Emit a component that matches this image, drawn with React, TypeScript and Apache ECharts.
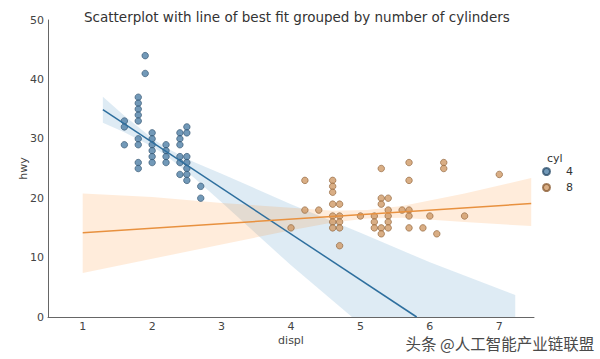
import React, { useEffect, useRef } from "react";
import * as echarts from "echarts";

// ---- data ----
const displ4 = [1.6, 1.6, 1.6, 1.8, 1.8, 1.8, 1.8, 1.8, 1.8, 1.8, 1.8, 1.8, 1.9, 1.9, 2.0, 2.0, 2.0, 2.0, 2.0, 2.0, 2.2, 2.2, 2.2, 2.2, 2.4, 2.4, 2.4, 2.4, 2.4, 2.4, 2.5, 2.5, 2.5, 2.5, 2.5, 2.5, 2.5, 2.7, 2.7];
const hwy4 = [33, 32, 29, 37, 36, 35, 34, 33, 30, 29, 26, 25, 44, 41, 31, 30, 29, 28, 27, 26, 29, 28, 27, 26, 31, 30, 29, 27, 26, 24, 32, 31, 27, 26, 25, 24, 23, 22, 20];

const displ8 = [4.0, 4.2, 4.2, 4.4, 4.6, 4.6, 4.6, 4.6, 4.6, 4.6, 4.6, 4.7, 4.7, 4.7, 4.7, 4.7, 5.0, 5.2, 5.2, 5.2, 5.3, 5.3, 5.3, 5.3, 5.3, 5.4, 5.4, 5.4, 5.4, 5.4, 5.6, 5.7, 5.7, 5.7, 5.7, 5.7, 5.9, 6.0, 6.1, 6.2, 6.2, 6.5, 7.0];
const hwy8 = [15, 23, 18, 18, 23, 22, 21, 19, 17, 16, 15, 19, 17, 16, 15, 12, 17, 17, 16, 15, 25, 20, 19, 15, 14, 20, 18, 17, 16, 15, 18, 26, 23, 18, 17, 15, 15, 17, 14, 26, 25, 17, 24];

// fitted lines (endpoints)
const fit4X = [1.29, 5.81];
const fit4Y = [34.9, 0];
const fit8X = [1.0, 7.46];
const fit8Y = [14.2, 19.1];

// confidence bands (edges)
const band4X = [1.29, 1.6, 2.0, 2.2, 2.6, 3.0, 4.0, 5.0, 6.0, 7.23];
const band4Up = [37.1, 33.9, 30.1, 28.5, 26.1, 24.1, 19.0, 14.2, 9.2, 3.7];
const band4Lo = [32.7, 31.1, 28.7, 27.2, 23.5, 19.3, 8.7, -1.2, -12.6, -25.7];
const band8X = [1.0, 2.0, 3.0, 4.0, 4.6, 5.1, 5.6, 6.5, 7.46];
const band8Up = [20.8, 20.2, 19.2, 18.4, 17.9, 18.0, 18.7, 20.8, 23.4];
const band8Lo = [7.4, 9.8, 12.2, 14.6, 15.9, 16.6, 16.7, 16.0, 15.3];

const xTicks = [1, 2, 3, 4, 5, 6, 7];
const legendItems = ["4", "8"];

const BLUE = "#1f77b4";
const ORANGE = "#ff7f0e";
const FONT = "DejaVu Sans";

function bandSeries(xs: number[], up: number[], lo: number[], color: string) {
  return {
    type: "custom",
    clip: true,
    silent: true,
    data: [[xs[0], up[0]]],
    renderItem: (_p: any, api: any) => {
      const pts: number[][] = [];
      for (let i = 0; i < xs.length; i++) pts.push(api.coord([xs[i], up[i]]));
      for (let i = xs.length - 1; i >= 0; i--) pts.push(api.coord([xs[i], lo[i]]));
      return {
        type: "polygon",
        shape: { points: pts },
        style: { fill: color, opacity: 0.15 },
      };
    },
  };
}

export default function App() {
  const ref = useRef<HTMLDivElement>(null);
  useEffect(() => {
    if (!ref.current) return;
    const chart = echarts.init(ref.current, undefined, { renderer: "svg" });
    chart.setOption({
      animation: false,
      backgroundColor: "#ffffff",
      title: {
        text: "Scatterplot with line of best fit grouped by number of cylinders",
        left: 79,
        top: 5,
        textStyle: { fontFamily: FONT, fontSize: 13.5, fontWeight: "normal", color: "#333" },
      },
      legend: {
        data: legendItems,
        orient: "vertical",
        left: 542,
        top: 166,
        icon: "circle",
        itemWidth: 7,
        itemHeight: 7,
        itemGap: 5,
        padding: 0,
        textStyle: { fontFamily: FONT, fontSize: 11, color: "#333", padding: [0, 0, 0, 11], lineHeight: 11 },
      },
      grid: { left: 48, right: 66, top: 20, bottom: 42 },
      xAxis: {
        type: "value",
        min: 0.5,
        max: 7.5,
        name: "displ",
        nameLocation: "middle",
        nameGap: 18,
        nameMoveOverlap: false,
        nameTextStyle: { fontFamily: FONT, fontSize: 11, color: "#444" },
        axisLine: { lineStyle: { color: "#666", width: 1 } },
        axisTick: { show: false },
        splitLine: { show: false },
        axisLabel: {
          customValues: xTicks,
          margin: 4,
          fontFamily: FONT,
          fontSize: 11,
          color: "#444",
        },
      },
      yAxis: {
        type: "value",
        min: 0,
        max: 50,
        interval: 10,
        name: "hwy",
        nameLocation: "middle",
        nameGap: 19,
        nameMoveOverlap: false,
        nameTextStyle: { fontFamily: FONT, fontSize: 11, color: "#444" },
        axisLine: { show: true, lineStyle: { color: "#666", width: 1 } },
        axisTick: { show: false },
        splitLine: { show: false },
        axisLabel: { margin: 4, fontFamily: FONT, fontSize: 11, color: "#444" },
      },
      graphic: [
        {
          type: "text",
          left: 547,
          top: 153,
          style: { text: "cyl", font: `11px ${FONT}`, fill: "#333" },
        },
        {
          type: "text",
          left: 405,
          top: 335,
          style: {
            text: "头条 @人工智能产业链联盟",
            font: '15.5px "Noto Sans CJK SC"',
            fill: "#4a4a4a",
            stroke: "#ffffff",
            lineWidth: 1,
          },
        },
      ],
      series: [
        {
          name: "4",
          type: "scatter",
          symbolSize: 6.5,
          data: displ4.map((d, i) => [d, hwy4[i]]),
          itemStyle: { color: "#4f7fa6", borderColor: "#2d4f6b", borderWidth: 0.8 },
        },
        bandSeries(band4X, band4Up, band4Lo, BLUE),
        {
          name: "fit4",
          type: "line",
          symbol: "none",
          data: fit4X.map((d, i) => [d, fit4Y[i]]),
          lineStyle: { color: "#2e6f9e", width: 1.5 },
        },
        {
          name: "8",
          type: "scatter",
          symbolSize: 6.5,
          data: displ8.map((d, i) => [d, hwy8[i]]),
          itemStyle: { color: "#cf9a66", borderColor: "#8c5e34", borderWidth: 0.8 },
        },
        bandSeries(band8X, band8Up, band8Lo, ORANGE),
        {
          name: "fit8",
          type: "line",
          symbol: "none",
          data: fit8X.map((d, i) => [d, fit8Y[i]]),
          lineStyle: { color: "#e8913f", width: 1.5 },
        },
      ],
    });
    return () => chart.dispose();
  }, []);
  return <div ref={ref} style={{ width: 600, height: 359, position: "absolute", left: 0, top: 0 }} />;
}
